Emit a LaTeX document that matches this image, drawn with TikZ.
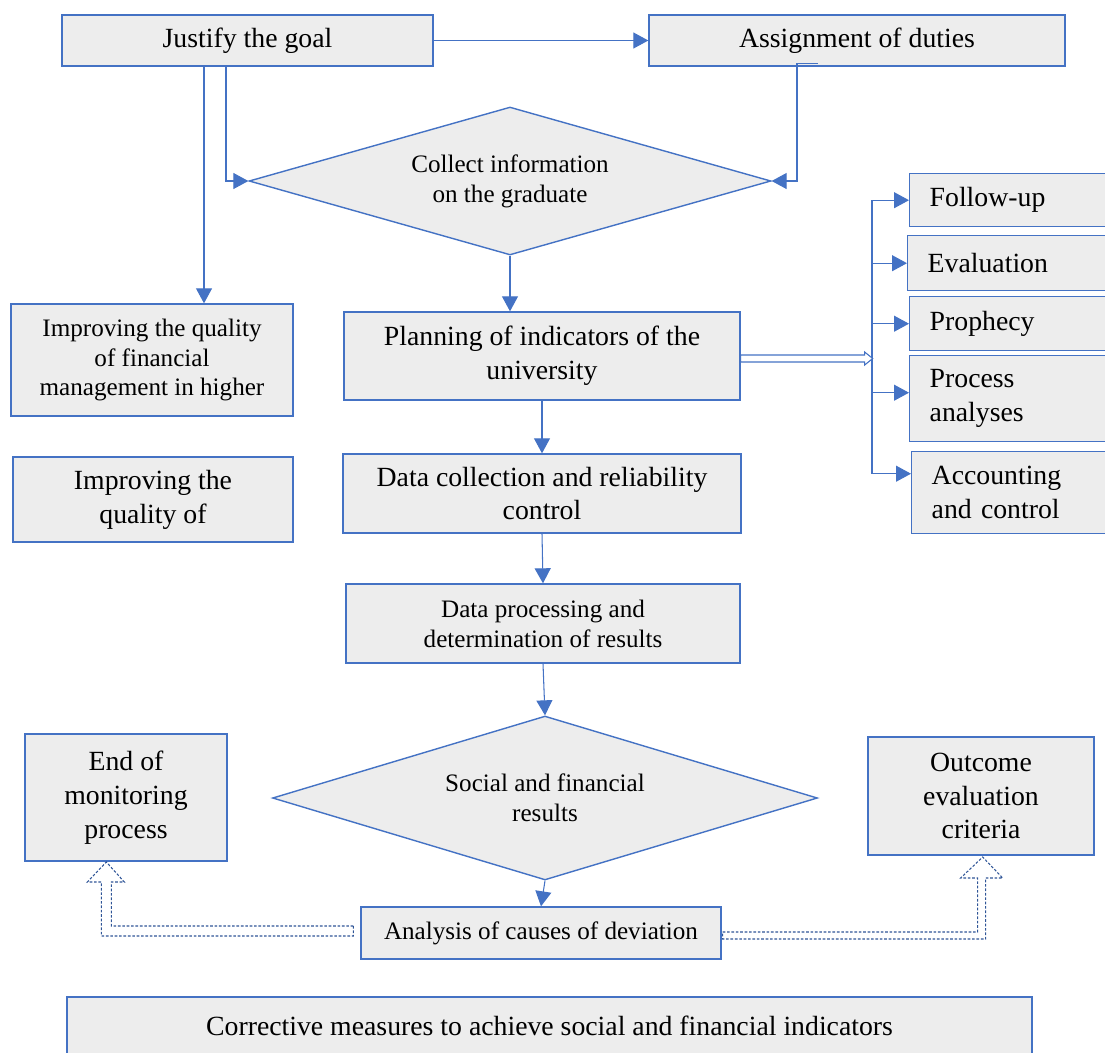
\documentclass[tikz,border=0pt]{standalone}
\usepackage{fontspec}
\setmainfont{Liberation Serif}
\usetikzlibrary{arrows.meta,shapes.geometric}
\definecolor{boxblue}{HTML}{4472C4}
\definecolor{boxgray}{HTML}{EDEDED}
\definecolor{hollowblue}{HTML}{2F5597}

\begin{document}
\begin{tikzpicture}[x=0.02cm,y=-0.02cm,
	box/.style={draw=boxblue,fill=boxgray,line width=0.8pt,align=center,inner sep=0pt},
	bigtext/.style={font=\fontsize{15.8}{19.3}\selectfont},
	smalltext/.style={font=\fontsize{14.3}{17}\selectfont},
	decision/.style={box,diamond,smalltext,shape aspect=3.5},
	listbox/.style={box,bigtext,anchor=north west,align=left,minimum width=4.3cm,text width=3.5cm,inner xsep=0.4cm},
	arr/.style={boxblue,line width=0.6pt,-{Triangle[length=0.3cm,width=0.32cm]}},
	hollow/.style={draw=boxblue,fill=white,line width=0.6pt},
	dashhollow/.style={draw=hollowblue,line width=0.6pt,dash pattern=on 1.5pt off 1pt}]
	\useasboundingbox (0,0) rectangle (1105,1052);
	\clip (0,0) rectangle (1105,1052);

	\node[box,bigtext,minimum width=7.42cm,minimum height=1.02cm] (goal) at (247.5,40.5) {Justify the goal};
	\node[box,bigtext,minimum width=8.32cm,minimum height=1.02cm] (duties) at (857,40.5) {Assignment of duties};
	\node[decision,minimum width=10.44cm,minimum height=2.96cm] (collect) at (510,181) {Collect information\\on the graduate};
	\node[box,smalltext,minimum width=5.64cm,minimum height=2.24cm] (impfin) at (152,360) {Improving the quality\\of financial\\management in higher};
	\node[box,bigtext,minimum width=5.6cm,minimum height=1.7cm] (impq) at (153,499.5) {Improving the\\quality of};
	\node[box,bigtext,minimum width=7.92cm,minimum height=1.76cm] (planning) at (542,356) {Planning of indicators of the\\university};
	\node[box,bigtext,minimum width=7.96cm,minimum height=1.58cm] (datacoll) at (542,493.5) {Data collection and reliability\\control};
	\node[box,smalltext,minimum width=7.88cm,minimum height=1.58cm] (dataproc) at (543,623.5) {Data processing and\\determination of results};
	\node[decision,minimum width=10.9cm,minimum height=3.28cm] (social) at (545,798) {Social and financial\\results};
	\node[box,smalltext,minimum width=7.2cm,minimum height=1.04cm] (analysis) at (541,933) {Analysis of causes of deviation};
	\node[box,bigtext,minimum width=4.04cm,minimum height=2.54cm] (endmon) at (126,797.5) {End of\\monitoring\\process};
	\node[box,bigtext,minimum width=4.52cm,minimum height=2.36cm] (outcome) at (981,796) {Outcome\\evaluation\\criteria};
	\node[box,bigtext,minimum width=19.3cm,minimum height=1.14cm] (corrective) at (549.5,1025.5) {Corrective measures to achieve social and financial indicators};

	\node[listbox,minimum height=1.06cm] (follow) at (909,173) {Follow-up};
	\node[listbox,minimum height=1.1cm] (evaluation) at (907,235) {Evaluation};
	\node[listbox,minimum height=1.08cm] (prophecy) at (909,296) {Prophecy};
	\node[listbox,minimum height=1.72cm] (process) at (909,355) {Process\\analyses};
	\node[listbox,minimum height=1.64cm] (account) at (911,451) {Accounting\\and control};

	\draw[arr] (goal.east) -- (duties.west);
	\draw[arr] ([xshift=-0.43cm]goal.south) |- (collect.west);
	\draw[arr] ([xshift=-0.87cm]goal.south) -- ([xshift=-0.87cm]goal.south |- impfin.north);
	\draw[arr] ([xshift=-0.78cm,yshift=0.06cm]duties.south) -- ([xshift=-1.2cm,yshift=0.06cm]duties.south) |- (collect.east);
	\draw[arr] (collect.south) -- (collect.south |- planning.north);
	\draw[arr] (planning.south) -- (datacoll.north);
	\draw[arr] (datacoll.south) -- (dataproc.north);
	\draw[arr] (dataproc.south) -- (social.north);
	\draw[arr] (social.south) -- (analysis.north);

	\coordinate (bus) at (872,198);
	\draw[boxblue,line width=0.6pt] (bus |- follow.west) -- ([yshift=0.38cm]bus |- account.west);
	\foreach \item/\shift in {follow/0,evaluation/0,prophecy/0,process/0.12,account/0.38}
		\draw[arr] ([yshift=\shift cm]bus |- \item.west) -- ([yshift=\shift cm]\item.west);

	\draw[hollow] (planning.east) ++(0,-1) -- ++(124,0) -- ++(0,-3) -- ++(8,6.5) -- ++(-8,6.5) -- ++(0,-3) -- ++(-124,0) -- cycle;
	\draw[dashhollow] (analysis.west) ++(-7,-7) -- ++(-242,0) -- ++(0,-44) -- ++(13,0) -- ++(-18,-20) -- ++(-19,20) -- ++(14,0) -- ++(0,54) -- ++(252,0) -- cycle;
	\draw[dashhollow] (analysis.east) ++(1,-1) -- ++(255,0) -- ++(0,-54) -- ++(-17,0) -- ++(22,-21) -- ++(20,21) -- ++(-17,0) -- ++(0,61) -- ++(-263,0) -- cycle;
\end{tikzpicture}
\end{document}
